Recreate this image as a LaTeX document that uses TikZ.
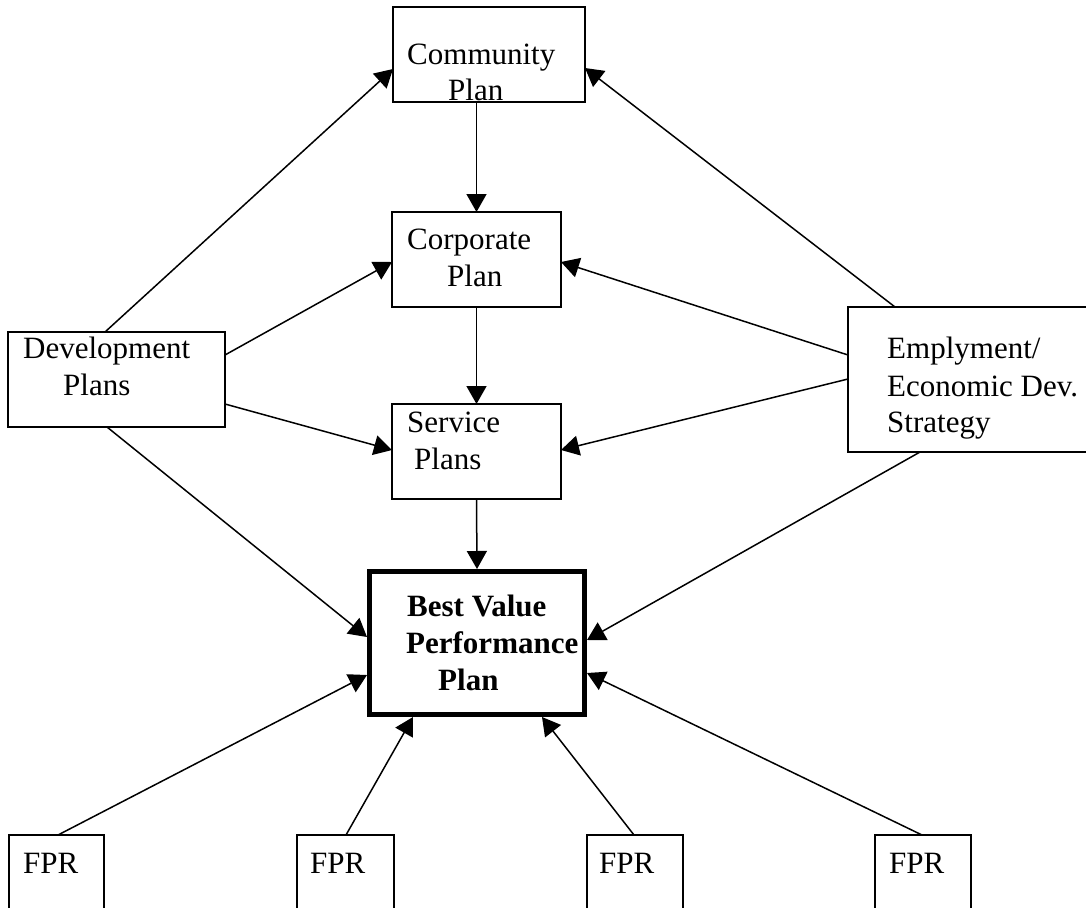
\documentclass[tikz,border=0pt]{standalone}
\usepackage{fontspec}
\setmainfont{Liberation Serif}
\usetikzlibrary{arrows.meta}
\begin{document}
\begin{tikzpicture}[x=1pt,y=-1pt,
  box/.style={draw,line width=1.4pt,inner sep=0pt,outer sep=0pt,anchor=north west},
  bigbox/.style={draw,line width=5pt,inner sep=0pt,outer sep=2.5pt,anchor=north west},
  lbl/.style={inner sep=0pt,anchor=base west,font=\fontsize{31}{37}\selectfont},
  blbl/.style={lbl,font=\fontsize{31}{37}\selectfont\bfseries},
  arr/.style={line width=1.5pt,-{Triangle[length=18pt,width=20pt]}}]
\useasboundingbox (0,0) rectangle (1086,907);
\clip (0,0) rectangle (1086,907);
\fill[white] (0,0) rectangle (1086,907);
% boxes
\node[box,minimum width=192pt,minimum height=95pt] (comm) at (393,7) {};
\node[box,minimum width=169pt,minimum height=95pt] (corp) at (392,212) {};
\node[box,minimum width=169pt,minimum height=95pt] (serv) at (392,404) {};
\node[box,minimum width=217pt,minimum height=95pt] (dev) at (8,332) {};
\node[box,minimum width=260pt,minimum height=145pt] (emp) at (848,307) {};
\node[bigbox,minimum width=215pt,minimum height=143pt] (bv) at (367,569) {};
\node[box,minimum width=95pt,minimum height=90pt] (fpr1) at (9,835) {};
\node[box,minimum width=97pt,minimum height=90pt] (fpr2) at (297,835) {};
\node[box,minimum width=96pt,minimum height=90pt] (fpr3) at (587,835) {};
\node[box,minimum width=96pt,minimum height=90pt] (fpr4) at (875,835) {};
% labels
\node[lbl] (commA) at (407,64) {Community};
\node[lbl] (commB) at (448,100) {Plan};
\node[lbl] (corpA) at (407,249) {Corporate};
\node[lbl] (corpB) at (447,286) {Plan};
\node[lbl] (servA) at (407,432) {Service};
\node[lbl] (servB) at (414,469) {Plans};
\node[lbl] (devA) at (23,358) {Development};
\node[lbl] (devB) at (63,395) {Plans};
\node[lbl] (empA) at (887,358) {Emplyment/};
\node[lbl] (empB) at (887,396) {Economic Dev.};
\node[lbl] (empC) at (887,432) {Strategy};
\node[blbl] (bvA) at (407,616) {Best Value};
\node[blbl] (bvB) at (406,653) {Performance};
\node[blbl] (bvC) at (438,690) {Plan};
\node[lbl] (fprA) at (23,873) {FPR};
\node[lbl] (fprB) at (310,873) {FPR};
\node[lbl] (fprC) at (599,873) {FPR};
\node[lbl] (fprD) at (889,873) {FPR};
% connectors
\draw[arr] ([xshift=97pt]dev.north west) -- ([yshift=-62pt]comm.north west);
\draw[arr] (corp.north |- comm.south) -- (corp.north);
\draw[arr] ([yshift=-23pt]dev.north east) -- ([yshift=-50pt]corp.north west);
\draw[arr] ([yshift=-72pt]dev.north east) -- ([yshift=-46pt]serv.north west);
\draw[arr] ([xshift=99pt]dev.south west) -- ([yshift=-68pt]bv.north west);
\draw[arr] (corp.south) -- (serv.north);
\draw[arr] (serv.south) -- (bv.north);
\draw[arr] ([xshift=47pt]emp.north west) -- ([yshift=-61pt]comm.north east);
\draw[arr] ([yshift=-48pt]emp.north west) -- ([yshift=-50pt]corp.north east);
\draw[arr] ([yshift=-72pt]emp.north west) -- ([yshift=-46pt]serv.north east);
\draw[arr] ([xshift=72pt]emp.south west) -- ([yshift=-71pt]bv.north east);
\draw[arr] ([xshift=49pt]fpr1.north west) -- ([yshift=-106pt]bv.north west);
\draw[arr] ([xshift=49pt]fpr2.north west) -- ([xshift=46pt]bv.south west);
\draw[arr] ([xshift=47pt]fpr3.north west) -- ([xshift=-45pt]bv.south east);
\draw[arr] ([xshift=47pt]fpr4.north west) -- ([yshift=-104pt]bv.north east);
\end{tikzpicture}
\end{document}
